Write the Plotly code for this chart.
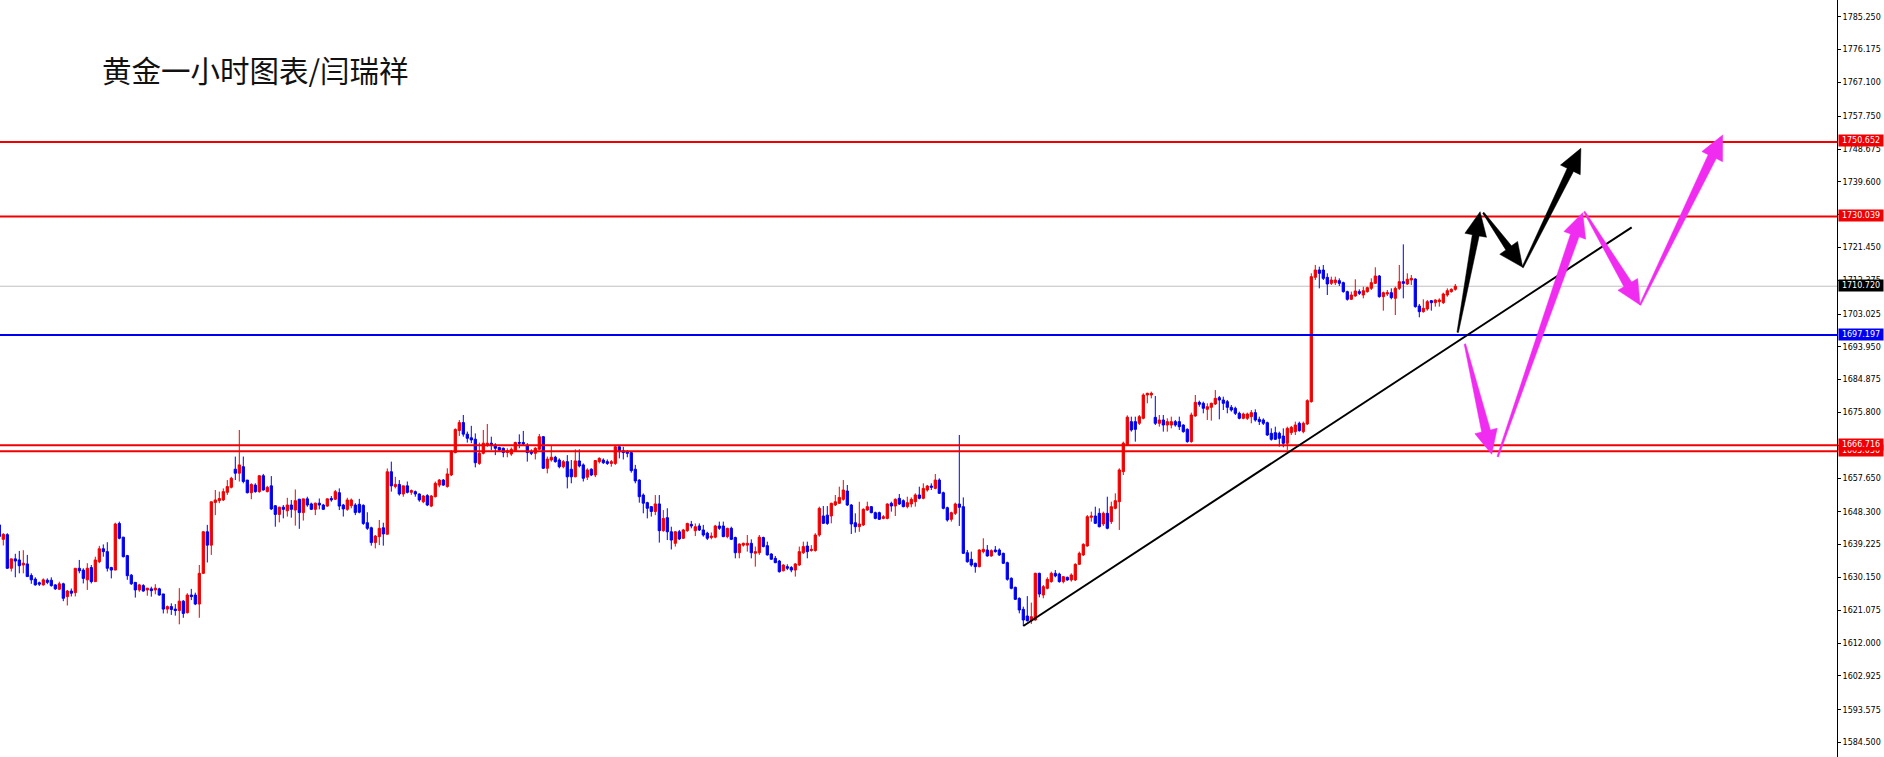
import math
import plotly.graph_objects as go

# ---------------- data ----------------
open_ = [
1644.7, 1640.7, 1642.0, 1632.7, 1635.3, 1635.0, 1633.6, 1633.9, 1630.7, 1629.7,
1628.7, 1628.1, 1629.4, 1629.4, 1628.1, 1626.9, 1628.4, 1624.85, 1626.4, 1625.95,
1632.7, 1632.2, 1629.5, 1632.9, 1629.0, 1634.5, 1638.1, 1637.3, 1632.9, 1632.2,
1645.1, 1641.3, 1636.2, 1630.8, 1628.8, 1626.7, 1627.9, 1626.7, 1627.0, 1626.7,
1627.0, 1625.6, 1621.4, 1622.1, 1621.4, 1621.0, 1623.6, 1620.4, 1625.3, 1625.3,
1622.8, 1631.3, 1642.8, 1639.1, 1650.9, 1651.4, 1651.6, 1653.7, 1655.1, 1660.1,
1659.0, 1660.8, 1657.1, 1653.6, 1655.7, 1653.9, 1658.3, 1653.9, 1655.5, 1650.0,
1647.6, 1649.6, 1648.6, 1650.2, 1648.8, 1651.8, 1648.1, 1651.9, 1650.5, 1649.0,
1650.7, 1650.2, 1649.9, 1652.0, 1651.8, 1653.6, 1650.2, 1649.0, 1650.0, 1650.2,
1650.4, 1650.1, 1645.3, 1643.9, 1639.8, 1641.45, 1643.9, 1642.1, 1659.4, 1655.3,
1655.9, 1653.25, 1655.5, 1653.7, 1653.9, 1653.25, 1651.1, 1652.8, 1649.9, 1652.5,
1655.7, 1657.1, 1655.3, 1658.5, 1664.7, 1670.8, 1673.0, 1669.8, 1668.8, 1668.4,
1661.7, 1664.5, 1666.8, 1667.3, 1666.8, 1666.1, 1665.9, 1664.7, 1664.3, 1665.2,
1667.5, 1667.5, 1666.6, 1664.96, 1664.5, 1665.6, 1669.1, 1660.35, 1662.65, 1663.4,
1662.65, 1660.8, 1662.2, 1660.1, 1658.0, 1662.4, 1661.3, 1657.9, 1660.1, 1658.5,
1662.2, 1662.65, 1662.2, 1661.7, 1661.7, 1666.3, 1665.2, 1664.96, 1664.7, 1660.1,
1657.1, 1652.95, 1650.85, 1649.75, 1648.4, 1650.5, 1643.1, 1646.7, 1642.8, 1639.6,
1642.8, 1641.0, 1643.1, 1644.85, 1643.1, 1644.4, 1643.3, 1642.4, 1641.2, 1641.3,
1644.4, 1644.4, 1641.45, 1643.75, 1641.2, 1637.0, 1639.1, 1639.1, 1639.6, 1636.85,
1637.0, 1641.2, 1638.95, 1636.65, 1635.45, 1634.7, 1632.0, 1633.15, 1632.9, 1632.2,
1633.6, 1637.0, 1638.85, 1637.6, 1637.6, 1641.9, 1647.16, 1647.4, 1647.16, 1650.2,
1650.66, 1651.77, 1654.07, 1650.2, 1645.3, 1644.2, 1644.67, 1648.8, 1649.74, 1648.08,
1648.08, 1646.5, 1646.5, 1650.66, 1649.93, 1652.05, 1651.4, 1649.74, 1650.48, 1651.12,
1652.97, 1652.05, 1654.35, 1655.45, 1654.8, 1657.1, 1653.6, 1649.46, 1646.24, 1647.9,
1650.48, 1649.74, 1637.0, 1635.17, 1634.07, 1633.14, 1637.3, 1637.76, 1636.1, 1637.76,
1637.76, 1636.83, 1634.25, 1629.92, 1627.43, 1624.38, 1621.34, 1619.5, 1618.2, 1618.39,
1631.3, 1625.3, 1627.15, 1629.0, 1631.3, 1631.1, 1629.0, 1630.2, 1629.46, 1629.46,
1633.79, 1636.37, 1638.86, 1646.79, 1647.16, 1647.9, 1644.95, 1647.9, 1645.6, 1649.28,
1651.12, 1659.42, 1666.8, 1673.26, 1673.26, 1672.8, 1674.18, 1680.63, 1680.63, 1674.45,
1672.8, 1673.72, 1672.33, 1672.33, 1673.26, 1673.26, 1672.33, 1671.13, 1667.72, 1674.82,
1678.6, 1678.33, 1676.67, 1677.22, 1678.14, 1679.9, 1679.25, 1678.79, 1677.22, 1676.95,
1675.56, 1674.18, 1674.18, 1674.64, 1675.75, 1673.9, 1673.72, 1672.98, 1670.03, 1670.21,
1670.03, 1669.29, 1667.26, 1670.21, 1670.49, 1672.8, 1670.49, 1672.61, 1678.79, 1713.18,
1715.21, 1715.21, 1713.18, 1711.52, 1711.71, 1712.26, 1711.71, 1709.22, 1707.1, 1708.02,
1709.22, 1708.29, 1709.22, 1710.14, 1711.52, 1713.55, 1707.83, 1708.57, 1708.94, 1707.37,
1710.14, 1711.98, 1711.34, 1712.44, 1712.72, 1705.25, 1703.68, 1704.42, 1706.73, 1706.17,
1706.45, 1706.17, 1708.29, 1709.22, 1709.86,
]

high = [
1645.5, 1642.4, 1642.4, 1635.3, 1636.7, 1637.5, 1637.7, 1636.4, 1631.3, 1630.2,
1629.0, 1629.9, 1629.9, 1630.2, 1628.3, 1629.0, 1628.7, 1626.7, 1627.1, 1632.7,
1635.0, 1632.7, 1634.1, 1633.6, 1635.9, 1638.9, 1639.3, 1639.9, 1633.1, 1645.3,
1645.6, 1641.4, 1636.4, 1631.1, 1628.8, 1628.4, 1628.3, 1627.2, 1627.6, 1628.3,
1627.3, 1625.6, 1622.4, 1623.0, 1622.8, 1627.2, 1623.9, 1625.8, 1627.0, 1625.95,
1633.6, 1643.0, 1644.7, 1651.1, 1654.35, 1653.9, 1654.8, 1657.1, 1658.0, 1663.6,
1670.95, 1663.6, 1657.1, 1656.2, 1656.2, 1658.5, 1658.8, 1655.5, 1658.2, 1650.2,
1649.7, 1650.2, 1652.2, 1651.6, 1654.5, 1651.9, 1651.9, 1652.5, 1650.85, 1650.85,
1652.0, 1650.5, 1652.0, 1652.7, 1654.35, 1654.8, 1650.5, 1652.2, 1652.0, 1650.7,
1651.9, 1650.4, 1648.2, 1644.2, 1641.9, 1646.05, 1645.3, 1660.3, 1662.2, 1658.0,
1657.1, 1655.5, 1656.7, 1654.5, 1654.2, 1653.4, 1652.95, 1653.2, 1652.95, 1656.7,
1657.4, 1657.4, 1660.35, 1665.4, 1671.4, 1673.7, 1675.1, 1670.5, 1672.1, 1670.0,
1667.45, 1670.95, 1672.6, 1669.1, 1667.3, 1666.3, 1666.1, 1665.9, 1666.1, 1667.7,
1669.75, 1670.7, 1667.3, 1665.6, 1666.2, 1669.85, 1669.3, 1663.6, 1666.8, 1663.8,
1663.1, 1662.65, 1664.0, 1662.65, 1665.6, 1665.6, 1661.7, 1660.35, 1660.35, 1662.65,
1663.4, 1663.1, 1662.8, 1662.65, 1666.8, 1666.8, 1666.3, 1665.4, 1664.96, 1661.3,
1657.3, 1653.4, 1651.1, 1649.9, 1652.95, 1652.95, 1648.8, 1649.3, 1644.2, 1643.0,
1643.3, 1643.6, 1645.3, 1645.8, 1645.1, 1645.1, 1644.7, 1642.8, 1642.6, 1644.7,
1645.6, 1645.6, 1643.9, 1644.2, 1641.45, 1639.6, 1639.8, 1641.9, 1640.7, 1638.7,
1641.9, 1641.45, 1640.06, 1636.85, 1636.1, 1635.0, 1633.8, 1633.8, 1633.3, 1634.1,
1638.7, 1640.06, 1640.06, 1639.1, 1642.4, 1649.74, 1649.93, 1649.9, 1650.85, 1652.97,
1655.27, 1657.1, 1655.73, 1650.48, 1647.9, 1651.1, 1649.28, 1651.12, 1649.93, 1648.36,
1648.36, 1647.43, 1650.66, 1651.12, 1652.05, 1653.24, 1651.77, 1652.5, 1652.3, 1653.43,
1655.27, 1656.2, 1655.73, 1656.2, 1658.78, 1657.58, 1653.9, 1649.74, 1648.36, 1650.85,
1669.57, 1652.3, 1637.76, 1637.3, 1634.25, 1637.94, 1641.0, 1639.14, 1637.94, 1638.86,
1638.2, 1637.02, 1634.53, 1630.2, 1627.61, 1624.66, 1622.08, 1625.0, 1623.2, 1631.48,
1631.48, 1628.07, 1630.2, 1631.76, 1632.22, 1631.48, 1630.57, 1630.38, 1631.3, 1634.07,
1637.3, 1639.6, 1647.43, 1648.36, 1649.74, 1649.28, 1648.36, 1652.5, 1651.12, 1653.43,
1660.35, 1667.72, 1675.0, 1674.64, 1674.64, 1675.1, 1681.09, 1681.27, 1681.55, 1680.36,
1675.1, 1675.1, 1674.18, 1674.64, 1673.72, 1674.64, 1672.52, 1671.41, 1675.75, 1680.63,
1679.07, 1678.79, 1678.33, 1678.51, 1682.0, 1680.36, 1680.17, 1679.25, 1677.86, 1677.4,
1676.02, 1675.75, 1675.75, 1676.48, 1676.67, 1674.64, 1674.18, 1673.26, 1671.41, 1671.87,
1670.49, 1671.41, 1671.87, 1672.06, 1673.26, 1673.26, 1673.26, 1679.44, 1714.29, 1716.6,
1716.13, 1716.6, 1714.29, 1713.37, 1713.37, 1712.9, 1711.98, 1709.49, 1709.22, 1712.63,
1709.86, 1710.6, 1710.6, 1712.9, 1715.95, 1713.83, 1709.22, 1709.68, 1710.14, 1710.6,
1716.6, 1722.31, 1714.29, 1713.83, 1712.9, 1705.81, 1707.1, 1706.91, 1706.91, 1707.1,
1707.37, 1708.94, 1710.14, 1710.14, 1711.34,
]

low = [
1641.0, 1639.0, 1632.5, 1631.8, 1630.2, 1631.3, 1631.3, 1630.3, 1628.4, 1627.9,
1627.8, 1627.9, 1628.3, 1627.6, 1626.7, 1626.7, 1623.6, 1622.4, 1624.9, 1624.9,
1631.3, 1628.5, 1626.7, 1628.5, 1629.0, 1634.1, 1635.9, 1631.8, 1629.9, 1632.2,
1640.7, 1635.7, 1629.5, 1628.1, 1624.6, 1626.2, 1626.2, 1625.1, 1624.85, 1625.5,
1625.1, 1620.2, 1620.2, 1619.8, 1619.6, 1617.2, 1619.0, 1620.2, 1623.9, 1622.5,
1619.0, 1631.1, 1634.3, 1636.4, 1647.4, 1650.7, 1651.3, 1653.0, 1654.8, 1657.1,
1656.7, 1656.2, 1653.4, 1651.8, 1653.6, 1653.6, 1654.2, 1653.7, 1648.8, 1644.2,
1645.4, 1646.5, 1647.0, 1646.7, 1644.5, 1643.6, 1645.9, 1649.7, 1648.8, 1647.4,
1649.0, 1648.8, 1649.7, 1651.1, 1651.6, 1648.8, 1647.0, 1648.6, 1649.3, 1647.4,
1647.9, 1644.7, 1643.3, 1638.95, 1638.2, 1639.1, 1638.95, 1642.1, 1653.9, 1654.8,
1652.8, 1652.5, 1653.4, 1653.0, 1652.5, 1651.1, 1650.7, 1649.9, 1649.6, 1652.3,
1655.1, 1655.5, 1655.0, 1658.2, 1664.5, 1669.3, 1669.1, 1667.45, 1667.3, 1660.6,
1661.3, 1664.2, 1666.3, 1665.4, 1664.0, 1665.0, 1663.4, 1663.4, 1663.8, 1665.0,
1665.9, 1666.8, 1662.2, 1664.0, 1662.8, 1665.4, 1660.2, 1658.95, 1662.2, 1661.9,
1660.35, 1660.35, 1654.8, 1656.2, 1657.9, 1660.6, 1656.7, 1657.1, 1658.2, 1657.9,
1661.7, 1661.55, 1661.3, 1660.8, 1661.3, 1663.1, 1662.8, 1663.4, 1659.15, 1656.2,
1650.85, 1647.9, 1646.5, 1647.0, 1647.4, 1639.8, 1642.8, 1640.5, 1637.9, 1638.7,
1640.5, 1640.8, 1642.8, 1643.75, 1641.6, 1643.0, 1641.45, 1640.5, 1640.7, 1641.0,
1643.3, 1641.3, 1641.0, 1640.5, 1635.45, 1635.45, 1638.7, 1637.3, 1635.45, 1633.15,
1636.4, 1638.5, 1636.2, 1635.0, 1634.1, 1631.5, 1631.85, 1632.2, 1631.6, 1630.4,
1633.35, 1636.65, 1635.45, 1637.3, 1637.3, 1641.44, 1644.95, 1644.7, 1645.13, 1649.93,
1650.5, 1651.4, 1649.93, 1642.18, 1642.55, 1642.8, 1644.4, 1648.6, 1647.9, 1646.24,
1646.05, 1646.24, 1646.24, 1648.36, 1647.16, 1650.2, 1649.56, 1649.28, 1649.56, 1649.74,
1651.77, 1651.77, 1653.9, 1654.35, 1654.54, 1653.24, 1649.0, 1645.6, 1645.6, 1647.43,
1644.4, 1636.65, 1634.25, 1633.14, 1631.48, 1632.96, 1636.83, 1635.9, 1635.9, 1637.02,
1636.1, 1633.88, 1629.27, 1626.87, 1623.92, 1620.23, 1616.73, 1617.93, 1617.3, 1618.2,
1624.66, 1624.38, 1626.87, 1628.72, 1630.2, 1628.72, 1628.53, 1629.27, 1629.0, 1629.18,
1633.6, 1636.1, 1638.68, 1645.6, 1644.95, 1644.0, 1644.4, 1643.47, 1644.95, 1649.0,
1643.3, 1658.5, 1666.5, 1670.49, 1667.72, 1672.33, 1673.9, 1678.33, 1679.71, 1672.33,
1671.87, 1670.49, 1670.49, 1671.41, 1671.87, 1670.95, 1670.21, 1667.44, 1667.44, 1674.64,
1677.4, 1675.56, 1673.72, 1673.53, 1677.86, 1673.9, 1676.48, 1675.56, 1676.02, 1675.1,
1673.9, 1673.9, 1673.72, 1672.8, 1673.26, 1672.33, 1672.33, 1669.29, 1668.0, 1668.18,
1666.34, 1666.16, 1665.42, 1669.57, 1669.57, 1670.49, 1670.03, 1672.33, 1678.51, 1712.44,
1710.14, 1712.44, 1708.29, 1711.06, 1711.06, 1710.79, 1708.94, 1706.73, 1706.91, 1707.83,
1708.29, 1707.37, 1708.94, 1709.68, 1711.34, 1707.56, 1703.96, 1708.02, 1707.1, 1702.76,
1709.68, 1707.37, 1711.06, 1711.06, 1704.79, 1702.12, 1703.41, 1703.96, 1703.96, 1705.07,
1705.07, 1705.81, 1707.83, 1708.94, 1709.49,
]

close_ = [
1641.5, 1642.1, 1632.7, 1635.3, 1634.7, 1633.4, 1634.1, 1630.4, 1629.5, 1628.1,
1628.3, 1629.5, 1628.8, 1627.9, 1627.0, 1628.4, 1624.4, 1626.4, 1625.8, 1632.7,
1632.0, 1629.9, 1632.7, 1629.0, 1635.0, 1638.1, 1637.3, 1632.7, 1632.2, 1644.95,
1641.0, 1635.9, 1630.65, 1628.4, 1626.7, 1628.1, 1626.4, 1627.2, 1626.5, 1627.2,
1625.3, 1621.4, 1622.1, 1621.3, 1621.0, 1623.6, 1620.2, 1625.3, 1624.85, 1622.8,
1631.3, 1642.8, 1639.1, 1651.1, 1651.6, 1652.0, 1653.9, 1655.3, 1657.6, 1659.0,
1661.3, 1656.7, 1653.6, 1655.9, 1653.9, 1658.3, 1654.35, 1655.1, 1649.1, 1647.6,
1649.6, 1649.0, 1650.2, 1649.0, 1651.4, 1648.1, 1651.9, 1650.2, 1649.0, 1650.7,
1650.2, 1649.0, 1651.9, 1651.6, 1653.9, 1649.9, 1649.1, 1651.6, 1651.6, 1648.1,
1648.2, 1645.1, 1643.75, 1639.8, 1641.6, 1643.75, 1642.2, 1659.4, 1655.5, 1655.9,
1653.25, 1655.5, 1653.7, 1654.2, 1653.25, 1651.6, 1652.7, 1650.2, 1652.7, 1656.2,
1657.1, 1655.7, 1658.8, 1664.96, 1671.1, 1673.0, 1669.8, 1668.65, 1668.2, 1661.9,
1664.5, 1667.3, 1667.3, 1666.8, 1665.9, 1665.4, 1664.7, 1665.2, 1665.6, 1667.5,
1667.3, 1667.1, 1664.7, 1664.5, 1665.9, 1669.1, 1660.35, 1662.9, 1663.4, 1662.2,
1660.8, 1662.2, 1658.0, 1658.0, 1662.4, 1661.0, 1657.6, 1659.9, 1658.5, 1662.5,
1663.1, 1661.9, 1661.7, 1662.2, 1666.3, 1664.96, 1664.7, 1664.5, 1659.7, 1656.85,
1652.5, 1650.7, 1649.3, 1648.4, 1650.5, 1643.1, 1646.5, 1642.8, 1640.5, 1642.8,
1640.8, 1643.3, 1645.1, 1644.4, 1644.2, 1643.3, 1641.9, 1641.0, 1641.6, 1644.4,
1643.75, 1641.45, 1643.75, 1640.7, 1637.0, 1639.4, 1639.6, 1639.6, 1637.0, 1637.3,
1641.3, 1638.7, 1636.4, 1635.2, 1634.25, 1631.75, 1633.6, 1632.7, 1632.2, 1633.9,
1637.3, 1638.7, 1637.3, 1637.95, 1641.9, 1649.28, 1645.13, 1645.1, 1650.66, 1651.1,
1652.3, 1654.35, 1650.2, 1644.95, 1644.2, 1644.95, 1649.0, 1649.74, 1648.08, 1646.5,
1646.24, 1646.97, 1650.48, 1649.93, 1651.77, 1650.48, 1649.74, 1650.85, 1651.77, 1652.97,
1652.05, 1654.8, 1655.45, 1655.1, 1657.1, 1653.43, 1649.28, 1646.05, 1648.08, 1650.48,
1649.56, 1636.83, 1634.5, 1633.6, 1633.14, 1637.76, 1637.94, 1636.1, 1637.57, 1637.3,
1636.37, 1634.07, 1629.64, 1627.15, 1624.11, 1621.16, 1618.39, 1618.2, 1619.3, 1631.3,
1625.58, 1627.61, 1629.64, 1631.3, 1630.57, 1629.0, 1630.38, 1629.46, 1630.84, 1633.79,
1636.83, 1639.32, 1646.97, 1647.16, 1645.13, 1644.2, 1647.9, 1643.75, 1649.74, 1651.4,
1659.9, 1667.3, 1674.5, 1670.95, 1671.13, 1674.64, 1680.63, 1681.09, 1681.09, 1672.8,
1673.72, 1672.33, 1673.26, 1673.26, 1672.33, 1671.87, 1670.49, 1667.72, 1675.1, 1678.6,
1678.05, 1676.95, 1677.4, 1678.33, 1679.71, 1679.25, 1678.33, 1677.22, 1676.48, 1675.56,
1674.18, 1675.38, 1675.38, 1675.75, 1673.72, 1673.26, 1672.8, 1669.57, 1668.37, 1668.37,
1668.64, 1667.26, 1671.41, 1671.69, 1672.33, 1670.77, 1672.8, 1679.07, 1713.37, 1715.21,
1714.29, 1712.9, 1711.34, 1712.44, 1712.44, 1711.52, 1709.22, 1707.1, 1708.29, 1709.4,
1708.76, 1709.49, 1710.33, 1711.71, 1713.55, 1707.83, 1708.94, 1708.94, 1707.56, 1710.14,
1711.98, 1711.52, 1712.63, 1712.9, 1705.07, 1703.68, 1704.61, 1706.45, 1706.17, 1706.91,
1706.91, 1708.57, 1709.49, 1709.86, 1710.72,
]

y_ticks = [1785.250, 1776.175, 1767.100, 1757.750, 1748.675, 1739.600, 1730.525,
           1721.450, 1712.375, 1703.025, 1693.950, 1684.875, 1675.800, 1666.725,
           1657.650, 1648.300, 1639.225, 1630.150, 1621.075, 1612.000, 1602.925,
           1593.575, 1584.500]

red_levels = [1750.652, 1730.039, 1665.050, 1666.716]
blue_level = 1697.197
last_price = 1710.720

# trend line (bar index, price)
trend_pts = [(256.0, 1616.73), (408.1, 1727.02)]

# forecast arrows (bar index, price) start -> tip
black_arrows = [
    ((364.6, 1697.97), (370.2, 1731.34)),
    ((371.0, 1731.06), (380.85, 1715.95)),
    ((380.85, 1715.95), (395.4, 1748.87)),
]
pink_arrows = [
    ((366.4, 1694.74), (373.1, 1664.23)),
    ((374.6, 1663.56), (395.85, 1731.06)),
    ((396.25, 1731.34), (410.2, 1705.53)),
    ((410.2, 1705.53), (430.85, 1752.55)),
]

title_text = "黄金一小时图表/闫瑞祥"

# ---------------- layout geometry ----------------
W, H = 1884, 757
M_R = 47
PLOT_W = W - M_R
PLOT_H = H
X_RANGE = [0.175, 459.425]
Y_RANGE = [1580.49, 1789.90]

RED = "#f00000"
BLUE = "#0000f0"
PINK = "#f02cf0"

x = list(range(len(close_)))

fig = go.Figure()
fig.add_trace(go.Candlestick(
    x=x, open=open_, high=high, low=low, close=close_,
    increasing=dict(line=dict(color=RED, width=1), fillcolor=RED),
    decreasing=dict(line=dict(color=BLUE, width=1), fillcolor=BLUE),
    whiskerwidth=0, hoverinfo="skip", showlegend=False,
))

shapes = []
shapes.append(dict(type="line", xref="paper", yref="y", x0=0, x1=1,
                   y0=last_price, y1=last_price,
                   line=dict(color="#c0c0c0", width=1), layer="below"))
for lv in red_levels:
    shapes.append(dict(type="line", xref="paper", yref="y", x0=0, x1=1,
                       y0=lv, y1=lv, line=dict(color=RED, width=2)))
shapes.append(dict(type="line", xref="paper", yref="y", x0=0, x1=1,
                   y0=blue_level, y1=blue_level, line=dict(color=BLUE, width=2)))
shapes.append(dict(type="line", xref="x", yref="y",
                   x0=trend_pts[0][0], y0=trend_pts[0][1],
                   x1=trend_pts[1][0], y1=trend_pts[1][1],
                   line=dict(color="black", width=2)))

sx = PLOT_W / (X_RANGE[1] - X_RANGE[0])
sy = PLOT_H / (Y_RANGE[1] - Y_RANGE[0])


def arrow_path(p_start, p_tip, w0, w1, hl, hw):
    u0, v0 = p_start[0] * sx, p_start[1] * sy
    u1, v1 = p_tip[0] * sx, p_tip[1] * sy
    dx, dy = u1 - u0, v1 - v0
    L = math.hypot(dx, dy)
    ux, uy = dx / L, dy / L
    nx, ny = -uy, ux
    bx, by = u1 - ux * hl, v1 - uy * hl
    pts = [
        (u0 + nx * w0 / 2, v0 + ny * w0 / 2),
        (bx + nx * w1 / 2, by + ny * w1 / 2),
        (bx + nx * hw / 2, by + ny * hw / 2),
        (u1, v1),
        (bx - nx * hw / 2, by - ny * hw / 2),
        (bx - nx * w1 / 2, by - ny * w1 / 2),
        (u0 - nx * w0 / 2, v0 - ny * w0 / 2),
    ]
    s = ""
    for k, (u, v) in enumerate(pts):
        s += ("M" if k == 0 else "L") + f"{u / sx:.4f},{v / sy:.4f} "
    return s + "Z"


for a, b in black_arrows:
    shapes.append(dict(type="path", xref="x", yref="y",
                       path=arrow_path(a, b, 1.5, 7, 24, 22),
                       fillcolor="black", line=dict(color="black", width=0.5)))
for a, b in pink_arrows:
    shapes.append(dict(type="path", xref="x", yref="y",
                       path=arrow_path(a, b, 1.5, 9, 24, 23),
                       fillcolor=PINK, line=dict(color=PINK, width=0.5)))

annotations = []
annotations.append(dict(text=title_text, xref="paper", yref="paper",
                        x=100 / PLOT_W, y=1 - 69 / PLOT_H,
                        xanchor="left", yanchor="middle", showarrow=False,
                        font=dict(family="Noto Sans CJK SC", size=29.5, color="#111111")))

label_font = dict(family="DejaVu Sans", size=8, color="white")
price_labels = [(1665.050, RED), (1666.716, RED), (1697.197, BLUE),
                (1710.720, "black"), (1730.039, RED), (1750.652, RED)]
for val, col in price_labels:
    annotations.append(dict(text=f"{val:.3f}", xref="paper", yref="y",
                            x=1, y=val, xanchor="left", yanchor="middle",
                            xshift=1, yshift=1, showarrow=False,
                            width=44, height=11, align="center",
                            bgcolor=col, borderpad=0, font=label_font))

fig.update_layout(
    template="none",
    width=W, height=H,
    margin=dict(l=0, r=M_R, t=0, b=0, pad=0),
    paper_bgcolor="white", plot_bgcolor="white",
    showlegend=False,
    boxgap=0.25, boxgroupgap=0.25,
    shapes=shapes, annotations=annotations,
    xaxis=dict(range=X_RANGE, showticklabels=False, showgrid=False,
               zeroline=False, showline=False, ticks="",
               rangeslider=dict(visible=False), automargin=False,
               fixedrange=True),
    yaxis=dict(range=Y_RANGE, side="right", tickvals=y_ticks,
               ticktext=[f"{v:.3f}" for v in y_ticks],
               ticks="outside", ticklen=3, tickwidth=1, tickcolor="black",
               showline=True, linecolor="black", linewidth=1,
               showgrid=False, zeroline=False, automargin=False,
               tickfont=dict(family="DejaVu Sans", size=8, color="black"),
               fixedrange=True),
)

fig.write_html(
    "out.html",
    config={"displayModeBar": False},
    post_script="document.body.style.margin='0';document.body.style.padding='0';document.body.style.overflow='hidden';",
)
